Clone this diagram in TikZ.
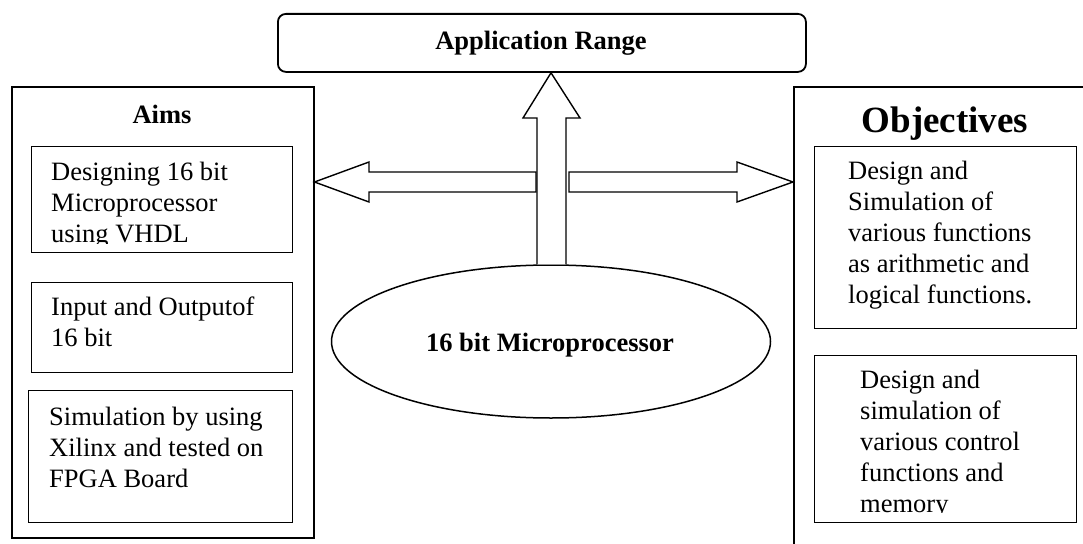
\documentclass[tikz,border=0pt]{standalone}
\usepackage{fontspec}
\setmainfont{Liberation Serif}
\usetikzlibrary{shapes.geometric}
\begin{document}
\begin{tikzpicture}[x=1pt,y=-1pt,
  box/.style={draw, line width=1.5pt, inner sep=0pt, anchor=north west},
  inbox/.style={draw, line width=1.3pt, inner sep=0pt, anchor=north west},
  body/.style={font=\fontsize{26.5}{31}\selectfont, anchor=base west, inner sep=0pt},
  head/.style={font=\bfseries\fontsize{26.5}{31}\selectfont, anchor=base, inner sep=0pt},
  blockarrow/.style={draw, fill=white, line width=1.4pt, line join=miter}]
\useasboundingbox (0,0) rectangle (1083,543);
\clip (0,0) rectangle (1083,543);
\fill[white] (0,0) rectangle (1083,543);

% main boxes
\node[box, line width=1.8pt, rounded corners=8pt, minimum width=528pt, minimum height=58pt] (app) at (277,13) {};
\node[box, minimum width=302pt, minimum height=451pt] (aims) at (11,86) {};
\node[box, minimum width=320pt, minimum height=480pt] (obj) at (793,86) {};
\node[draw, line width=1.5pt, ellipse, minimum width=439pt, minimum height=153pt, inner sep=0pt] (cpu) at (551,341.5) {};

% inner boxes
\node[inbox, minimum width=261pt, minimum height=106pt] (a1) at (31,146) {};
\node[inbox, minimum width=261pt, minimum height=90pt] (a2) at (31,282) {};
\node[inbox, minimum width=264pt, minimum height=132pt] (a3) at (28,390) {};
\node[inbox, minimum width=262pt, minimum height=182pt] (o1) at (814,146) {};
\node[inbox, minimum width=262pt, minimum height=167pt] (o2) at (814,355) {};

% titles
\node[head] (apptxt) at (541,50) {Application Range};
\node[head] (aimstxt) at (162,123) {Aims};
\node[head, font=\bfseries\fontsize{37}{40}\selectfont] (objtxt) at (945,132) {Objectives};
\node[head] (cputxt) at (550,351) {16 bit Microprocessor};

% body texts
\begin{scope}
\clip (31,146) rectangle (292,243);
\foreach \t [count=\i] in {Designing 16 bit, Microprocessor, using VHDL}
  \node[body] (a1t\i) at (51,{149+31*\i}) {\t};
\end{scope}
\foreach \t [count=\i] in {Input and Outputof, 16 bit}
  \node[body] (a2t\i) at (51,{284+31*\i}) {\t};
\foreach \t [count=\i] in {Simulation by using, Xilinx and tested on, FPGA Board}
  \node[body] (a3t\i) at (49,{394+31*\i}) {\t};
\foreach \t [count=\i] in {Design and, Simulation of, various functions, as arithmetic and, logical functions.}
  \node[body] (o1t\i) at (848,{148+31*\i}) {\t};
\begin{scope}
\clip (814,355) rectangle (1076,512.5);
\foreach \t [count=\i] in {Design and, simulation of, various control, functions and, memory}
  \node[body] (o2t\i) at (860,{357+31*\i}) {\t};
\end{scope}

% block arrows
\draw[blockarrow] (cpu.north -| 537,0) -- (537,118) -- (523,118) -- (cpu.north |- app.south)
  -- (580,118) -- (566,118) -- (cpu.north -| 566,0);
\draw[blockarrow] (536,172) -- (369,172) -- (369,162) -- (aims.east |- 0,182)
  -- (369,202) -- (369,192) -- (536,192) -- cycle;
\draw[blockarrow] (569,172) -- (737,172) -- (737,162) -- (obj.west |- 0,182)
  -- (737,202) -- (737,192) -- (569,192) -- cycle;
\end{tikzpicture}
\end{document}
